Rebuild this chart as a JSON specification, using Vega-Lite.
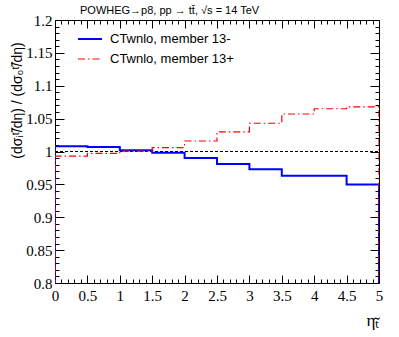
{
  "$schema": "https://vega.github.io/schema/vega-lite/v6.json",
  "width": 324,
  "height": 263,
  "autosize": {"type": "none"},
  "padding": {"left": 55, "top": 20, "right": 20, "bottom": 54},
  "background": "white",
  "config": {
    "view": {"stroke": "black", "strokeWidth": 1},
    "axis": {"domain": false, "ticks": false, "gridColor": "black", "gridOpacity": 1, "gridWidth": 1, "labelColor": "black", "titleColor": "black"}
  },
  "title": {
    "text": "POWHEG→p8, pp → tt̄, √s = 14 TeV",
    "anchor": "start",
    "frame": "group",
    "dx": 25,
    "offset": -3,
    "font": "Liberation Sans",
    "fontSize": 11,
    "fontWeight": "normal",
    "color": "black"
  },
  "datasets": {
    "hist": [
      {"s": "CTwnlo, member 13-", "o": 0, "eta": 0, "r": 0},
      {"s": "CTwnlo, member 13-", "o": 1, "eta": 0, "r": 1.008},
      {"s": "CTwnlo, member 13-", "o": 2, "eta": 0.5, "r": 1.007},
      {"s": "CTwnlo, member 13-", "o": 3, "eta": 1, "r": 1.002},
      {"s": "CTwnlo, member 13-", "o": 4, "eta": 1.5, "r": 0.998},
      {"s": "CTwnlo, member 13-", "o": 5, "eta": 2, "r": 0.990},
      {"s": "CTwnlo, member 13-", "o": 6, "eta": 2.5, "r": 0.981},
      {"s": "CTwnlo, member 13-", "o": 7, "eta": 3, "r": 0.973},
      {"s": "CTwnlo, member 13-", "o": 8, "eta": 3.5, "r": 0.963},
      {"s": "CTwnlo, member 13-", "o": 9, "eta": 4, "r": 0.963},
      {"s": "CTwnlo, member 13-", "o": 10, "eta": 4.5, "r": 0.950},
      {"s": "CTwnlo, member 13-", "o": 11, "eta": 5, "r": 0.950},
      {"s": "CTwnlo, member 13-", "o": 12, "eta": 5, "r": 0},
      {"s": "CTwnlo, member 13+", "o": 0, "eta": 0, "r": 0},
      {"s": "CTwnlo, member 13+", "o": 1, "eta": 0, "r": 0.993},
      {"s": "CTwnlo, member 13+", "o": 2, "eta": 0.5, "r": 0.997},
      {"s": "CTwnlo, member 13+", "o": 3, "eta": 1, "r": 1.0005},
      {"s": "CTwnlo, member 13+", "o": 4, "eta": 1.5, "r": 1.006},
      {"s": "CTwnlo, member 13+", "o": 5, "eta": 2, "r": 1.016},
      {"s": "CTwnlo, member 13+", "o": 6, "eta": 2.5, "r": 1.030},
      {"s": "CTwnlo, member 13+", "o": 7, "eta": 3, "r": 1.043},
      {"s": "CTwnlo, member 13+", "o": 8, "eta": 3.5, "r": 1.057},
      {"s": "CTwnlo, member 13+", "o": 9, "eta": 4, "r": 1.065},
      {"s": "CTwnlo, member 13+", "o": 10, "eta": 4.5, "r": 1.068},
      {"s": "CTwnlo, member 13+", "o": 11, "eta": 5, "r": 1.068},
      {"s": "CTwnlo, member 13+", "o": 12, "eta": 5, "r": 0}
    ],
    "ref": [{"x0": 0, "x1": 5, "r": 1}]
  },
  "layer": [
    {
      "data": {"name": "ref"},
      "mark": {"type": "rule", "color": "black", "strokeWidth": 1, "strokeDash": [3, 2]},
      "encoding": {
        "x": {
          "field": "x0", "type": "quantitative",
          "scale": {"domain": [0, 5], "nice": false, "zero": false},
          "axis": {
            "orient": "bottom",
            "values": [0,0.5,1,1.5,2,2.5,3,3.5,4,4.5,5],
            "grid": true,
            "gridDash": [8, 247, 8],
            "format": "~g",
            "labelFont": "Liberation Serif",
            "labelFontSize": 15,
            "labelPadding": 5,
            "labelFlush": false,
            "labelOverlap": false,
            "title": "ηₜ̃",
            "titleFont": "Liberation Serif",
            "titleFontSize": 17,
            "titleFontWeight": "normal",
            "titleAnchor": "end",
            "titleAlign": "right",
            "titleX": 324,
            "titleY": 42,
            "titleBaseline": "alphabetic"
          }
        },
        "x2": {"field": "x1"},
        "y": {
          "field": "r", "type": "quantitative",
          "scale": {"domain": [0.8, 1.2], "nice": false, "zero": false},
          "axis": {
            "orient": "left",
            "values": [0.8,0.85,0.9,0.95,1,1.05,1.1,1.15,1.2],
            "grid": true,
            "gridDash": [9, 306, 9],
            "format": "~g",
            "labelFont": "Liberation Serif",
            "labelFontSize": 15,
            "labelPadding": 3,
            "labelFlush": false,
            "labelOverlap": false,
            "title": "(dσᵢᵗ̃/dη) / (dσ₀ᵗ̃/dη)",
            "titleFont": "Liberation Sans",
            "titleFontSize": 14,
            "titleFontWeight": "normal",
            "titleAngle": -90,
            "titleAlign": "center",
            "titleBaseline": "middle",
            "titleX": -38,
            "titleY": 80
          }
        }
      }
    },
    {
      "data": {"name": "hist"},
      "mark": {"type": "line", "interpolate": "step-after", "clip": true},
      "encoding": {
        "x": {
          "field": "eta", "type": "quantitative",
          "scale": {"domain": [0, 5], "nice": false, "zero": false},
          "axis": {
            "orient": "top",
            "values": [0.1,0.2,0.3,0.4,0.6,0.7,0.8,0.9,1.1,1.2,1.3,1.4,1.6,1.7,1.8,1.9,2.1,2.2,2.3,2.4,2.6,2.7,2.8,2.9,3.1,3.2,3.3,3.4,3.6,3.7,3.8,3.9,4.1,4.2,4.3,4.4,4.6,4.7,4.8,4.9],
            "grid": true,
            "gridDash": [4, 255, 4],
            "labels": false,
            "title": null
          }
        },
        "y": {
          "field": "r", "type": "quantitative",
          "scale": {"domain": [0.8, 1.2], "nice": false, "zero": false},
          "axis": {
            "orient": "right",
            "values": [0.81,0.82,0.83,0.84,0.86,0.87,0.88,0.89,0.91,0.92,0.93,0.94,0.96,0.97,0.98,0.99,1.01,1.02,1.03,1.04,1.06,1.07,1.08,1.09,1.11,1.12,1.13,1.14,1.16,1.17,1.18,1.19],
            "grid": true,
            "gridDash": [4, 316, 4],
            "labels": false,
            "title": null
          }
        },
        "order": {"field": "o", "type": "quantitative"},
        "color": {
          "field": "s", "type": "nominal",
          "scale": {"domain": ["CTwnlo, member 13-", "CTwnlo, member 13+"], "range": ["#0000ff", "#ff0000"]},
          "legend": {
            "orient": "none",
            "legendX": 22,
            "legendY": 6,
            "title": null,
            "symbolType": "stroke",
            "symbolSize": 576,
            "symbolStrokeWidth": 1.5,
            "labelFont": "Liberation Sans",
            "labelFontSize": 13,
            "labelColor": "black",
            "labelOffset": 7,
            "rowPadding": -8
          }
        },
        "strokeDash": {
          "field": "s", "type": "nominal",
          "scale": {"domain": ["CTwnlo, member 13-", "CTwnlo, member 13+"], "range": [[1, 0], [7, 3, 1.5, 3]]},
          "legend": null
        },
        "strokeWidth": {
          "field": "s", "type": "nominal",
          "scale": {"domain": ["CTwnlo, member 13-", "CTwnlo, member 13+"], "range": [2, 1.2]},
          "legend": null
        }
      }
    }
  ],
  "resolve": {"axis": {"x": "independent", "y": "independent"}}
}
